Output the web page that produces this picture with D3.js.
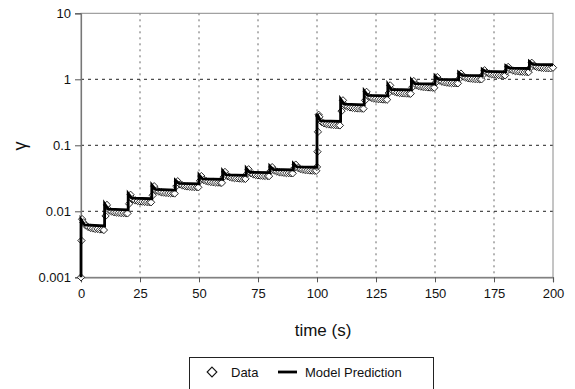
<!DOCTYPE html>
<html><head><meta charset="utf-8">
<script src="https://cdn.jsdelivr.net/npm/d3@7"></script>
<style>
body{margin:0;background:#fff;}
svg{display:block;font-family:"Liberation Sans",Arial,Helvetica,sans-serif;}
</style></head>
<body><svg id="c" width="575" height="389"></svg>
<script>
// ---- data ----
const xTicks = [0, 25, 50, 75, 100, 125, 150, 175, 200];
const yTicks = [0.001, 0.01, 0.1, 1, 10];
const yTickLabels = ["0.001", "0.01", "0.1", "1", "10"];

// Model prediction: step start times, peak value, early plateau, plateau end
const stepTimes   = [0, 10, 20, 30, 40, 50, 60, 70, 80, 90, 100, 110, 120, 130, 140, 150, 160, 170, 180, 190];
const peakGamma   = [0.0075, 0.013, 0.0185, 0.025, 0.0295, 0.0355, 0.041, 0.045, 0.0485, 0.053, 0.30, 0.50, 0.67, 0.84, 0.98, 1.12, 1.27, 1.42, 1.60, 1.85];
const plateauGamma= [0.0062, 0.0108, 0.0158, 0.0215, 0.0265, 0.031, 0.0355, 0.039, 0.043, 0.047, 0.235, 0.42, 0.57, 0.70, 0.86, 1.00, 1.15, 1.32, 1.48, 1.68];
const plateauEnd  = [0.0060, 0.0105, 0.0155, 0.021, 0.026, 0.0305, 0.035, 0.0385, 0.0425, 0.0465, 0.23, 0.41, 0.56, 0.69, 0.85, 0.99, 1.14, 1.30, 1.46, 1.66];
const modelStart = 0.001;
const modelEndTime = 200;

// Measured data
const dataTime = [
  0, 0.2, 0.5, 1, 2, 3, 4, 5, 6, 7, 8, 9, 9.7,
  10.4, 11, 12, 13, 14, 15, 16, 17, 18, 19, 19.7,
  20.4, 21, 22, 23, 24, 25, 26, 27, 28, 29, 29.7,
  30.4, 31, 32, 33, 34, 35, 36, 37, 38, 39, 39.7,
  40.4, 41, 42, 43, 44, 45, 46, 47, 48, 49, 49.7,
  50.4, 51, 52, 53, 54, 55, 56, 57, 58, 59, 59.7,
  60.4, 61, 62, 63, 64, 65, 66, 67, 68, 69, 69.7,
  70.4, 71, 72, 73, 74, 75, 76, 77, 78, 79, 79.7,
  80.4, 81, 82, 83, 84, 85, 86, 87, 88, 89, 89.7,
  90.4, 91, 92, 93, 94, 95, 96, 97, 98, 99, 99.7,
  100, 100.2, 100.4, 100.7, 101, 102, 103, 104, 105, 106, 107, 108, 109, 109.7,
  110.4, 111, 112, 113, 114, 115, 116, 117, 118, 119, 119.7,
  120.4, 121, 122, 123, 124, 125, 126, 127, 128, 129, 129.7,
  130.4, 131, 132, 133, 134, 135, 136, 137, 138, 139, 139.7,
  140.4, 141, 142, 143, 144, 145, 146, 147, 148, 149, 149.7,
  150.4, 151, 152, 153, 154, 155, 156, 157, 158, 159, 159.7,
  160.4, 161, 162, 163, 164, 165, 166, 167, 168, 169, 169.7,
  170.4, 171, 172, 173, 174, 175, 176, 177, 178, 179, 179.7,
  180.4, 181, 182, 183, 184, 185, 186, 187, 188, 189, 189.7,
  190.4, 191, 192, 193, 194, 195, 196, 197, 198, 199, 200
];
const dataGamma = [
  0.001, 0.0036, 0.0076, 0.0068, 0.0061, 0.0058, 0.0056, 0.0055, 0.0054, 0.0054, 0.0053, 0.0053, 0.0052,
  0.0085, 0.0125, 0.0104, 0.0099, 0.0097, 0.0096, 0.0095, 0.0094, 0.0094, 0.0093, 0.0093,
  0.013, 0.0178, 0.0152, 0.0146, 0.0143, 0.0141, 0.014, 0.0139, 0.0138, 0.0137, 0.0137,
  0.0175, 0.024, 0.0207, 0.0199, 0.0195, 0.0192, 0.019, 0.0189, 0.0188, 0.0187, 0.0186,
  0.024, 0.0285, 0.0255, 0.0246, 0.0241, 0.0238, 0.0236, 0.0234, 0.0233, 0.0232, 0.0231,
  0.029, 0.0342, 0.0298, 0.0288, 0.0282, 0.0278, 0.0276, 0.0274, 0.0272, 0.0271, 0.027,
  0.033, 0.0395, 0.0342, 0.033, 0.0323, 0.0319, 0.0316, 0.0314, 0.0312, 0.0311, 0.031,
  0.037, 0.0433, 0.0376, 0.0363, 0.0355, 0.035, 0.0347, 0.0345, 0.0343, 0.0342, 0.0341,
  0.041, 0.0467, 0.0414, 0.04, 0.0392, 0.0387, 0.0383, 0.038, 0.0378, 0.0377, 0.0376,
  0.045, 0.051, 0.0453, 0.0437, 0.0428, 0.0422, 0.0418, 0.0415, 0.0413, 0.0412, 0.0411,
  0.047, 0.08, 0.16, 0.29, 0.27, 0.225, 0.215, 0.21, 0.207, 0.205, 0.203, 0.202, 0.201, 0.2,
  0.33, 0.48, 0.40, 0.385, 0.375, 0.37, 0.366, 0.363, 0.361, 0.36, 0.359,
  0.48, 0.645, 0.545, 0.525, 0.512, 0.505, 0.5, 0.497, 0.494, 0.492, 0.491,
  0.62, 0.81, 0.67, 0.645, 0.63, 0.62, 0.615, 0.611, 0.608, 0.606, 0.605,
  0.76, 0.94, 0.82, 0.79, 0.775, 0.765, 0.758, 0.753, 0.75, 0.747, 0.746,
  0.9, 1.08, 0.955, 0.92, 0.9, 0.89, 0.882, 0.876, 0.872, 0.869, 0.868,
  1.03, 1.22, 1.1, 1.06, 1.04, 1.025, 1.015, 1.008, 1.003, 1.0, 0.998,
  1.17, 1.37, 1.26, 1.215, 1.19, 1.175, 1.165, 1.157, 1.152, 1.148, 1.146,
  1.33, 1.54, 1.41, 1.36, 1.335, 1.32, 1.308, 1.3, 1.294, 1.29, 1.288,
  1.5, 1.78, 1.6, 1.545, 1.515, 1.497, 1.485, 1.476, 1.47, 1.465, 1.5
];

// ---- layout ----
const svg = d3.select("#c");
const L = 81, R = 553, T = 13.3, B = 277.3;
const x = d3.scaleLinear().domain([0, 200]).range([L, R]);
const y = d3.scaleLog().domain([0.001, 10]).range([B, T]);

// grid
const g = svg.append("g");
g.selectAll(".vg").data(xTicks.slice(1, -1)).enter().append("line")
  .attr("x1", d => x(d)).attr("x2", d => x(d)).attr("y1", T).attr("y2", B)
  .attr("stroke", "#666").attr("stroke-width", 1).attr("stroke-dasharray", "2,4");
g.selectAll(".hg").data(yTicks.slice(1, -1)).enter().append("line")
  .attr("x1", L).attr("x2", R).attr("y1", d => y(d)).attr("y2", d => y(d))
  .attr("stroke", "#222").attr("stroke-width", 1).attr("stroke-dasharray", "3,4");

// frame
svg.append("rect").attr("x", L).attr("y", T).attr("width", R - L).attr("height", B - T)
  .attr("fill", "none").attr("stroke", "#8a8a8a").attr("stroke-width", 1);

// axes
const xAxis = d3.axisBottom(x).tickValues(xTicks).tickSize(5).tickPadding(6).tickFormat(d3.format("d"));
const yAxis = d3.axisLeft(y).tickValues(yTicks).tickSize(6).tickPadding(4)
  .tickFormat((d, i) => yTickLabels[i]);
const xa = svg.append("g").attr("transform", `translate(0,${B})`).call(xAxis);
const ya = svg.append("g").attr("transform", `translate(${L},0)`).call(yAxis);
[xa, ya].forEach(a => {
  a.select(".domain").attr("stroke", "#777").attr("stroke-width", 1.2);
  a.selectAll(".tick line").attr("stroke", "#555");
  a.selectAll("text").attr("font-size", 13).attr("fill", "#111")
    .attr("font-family", "'Liberation Sans', Arial, sans-serif");
});

// data diamonds
const diamond = d3.symbol().type(d3.symbolDiamond2).size(34);
const pts = dataTime.map((t, i) => [t, dataGamma[i]]);
svg.append("g").selectAll("path").data(pts).enter().append("path")
  .attr("d", diamond)
  .attr("transform", d => `translate(${x(d[0])},${y(d[1])})`)
  .attr("fill", "#fff").attr("stroke", "#111").attr("stroke-width", 0.9);

// model line
const model = [[0, modelStart]];
stepTimes.forEach((t, i) => {
  model.push([t, peakGamma[i]]);
  model.push([t + 1.5, plateauGamma[i]]);
  const tEnd = i + 1 < stepTimes.length ? stepTimes[i + 1] : modelEndTime;
  model.push([tEnd, plateauEnd[i]]);
});
svg.append("path").datum(model)
  .attr("d", d3.line().x(d => x(d[0])).y(d => y(d[1])))
  .attr("fill", "none").attr("stroke", "#000").attr("stroke-width", 2.8)
  .attr("stroke-linejoin", "miter");

// axis titles
svg.append("text").attr("x", 323).attr("y", 336).attr("text-anchor", "middle")
  .attr("font-size", 17).attr("fill", "#111").text("time (s)");
svg.append("text").attr("transform", "translate(26,146) rotate(-90)").attr("text-anchor", "middle")
  .attr("font-size", 18).attr("fill", "#111").text("γ");

// legend
const lg = svg.append("g");
lg.append("rect").attr("x", 189.5).attr("y", 357.5).attr("width", 244).attr("height", 40)
  .attr("fill", "#fff").attr("stroke", "#222").attr("stroke-width", 1);
lg.append("path").attr("d", d3.symbol().type(d3.symbolDiamond2).size(60))
  .attr("transform", "translate(212,372)").attr("fill", "#fff").attr("stroke", "#111").attr("stroke-width", 1.1);
lg.append("text").attr("x", 231).attr("y", 376.5).attr("font-size", 13).attr("fill", "#111").text("Data");
lg.append("line").attr("x1", 278).attr("x2", 297).attr("y1", 372).attr("y2", 372)
  .attr("stroke", "#000").attr("stroke-width", 2.8);
lg.append("text").attr("x", 305).attr("y", 376.5).attr("font-size", 13).attr("fill", "#111").text("Model Prediction");
</script></body></html>
